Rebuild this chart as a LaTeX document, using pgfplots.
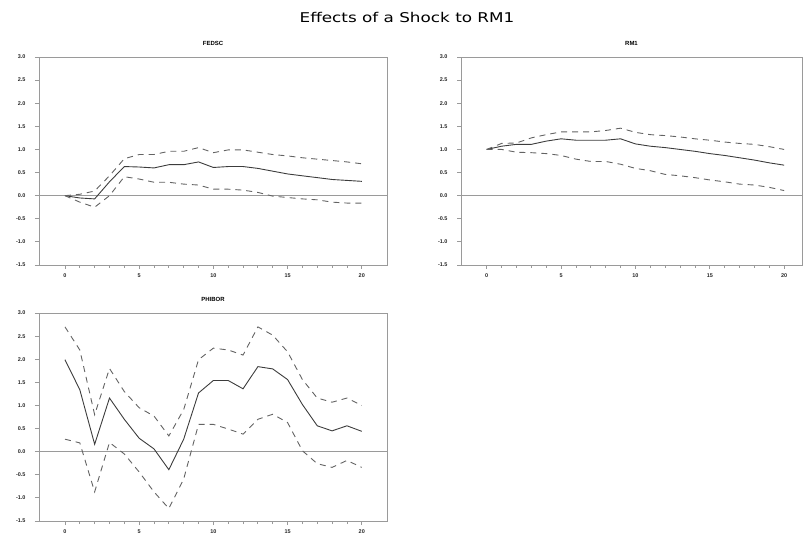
\documentclass[border=0pt]{standalone}
\usepackage{pgfplots}
\pgfplotsset{compat=1.18}
\usepackage{graphicx}
\usepackage{fontspec}
\setmainfont{DejaVu Sans}
\setsansfont{Liberation Sans}
\definecolor{axgray}{HTML}{9A9A9A}
\definecolor{linegray}{HTML}{3C3C3C}
\pgfplotsset{
  irf/.style={
    scale only axis, height=208bp,
    ymin=-1.5, ymax=3.0,
    ytick={-1.5,-1.0,-0.5,0,0.5,1.0,1.5,2.0,2.5,3.0},
    xtick={0,5,10,15,20}, minor xtick={0,...,20},
    axis line style={axgray, line width=0.8pt},
    major tick length=4bp, minor tick length=3bp,
    tick style={axgray, line width=0.8pt},
    tick align=outside, xtick pos=lower, ytick pos=left,
    yticklabel style={xshift=-6bp, /pgf/number format/.cd, fixed, fixed zerofill, precision=1},
    ticklabel style={font=\sffamily\bfseries\fontsize{5.5}{6}\selectfont, text=black!85},
    /pgf/number format/assume math mode=true,
    xticklabel style={yshift=-1.5bp},
    title style={font=\sffamily\bfseries\fontsize{6}{7}\selectfont, at={(0.5,1)}, anchor=south, yshift=2bp},
    anchor=north west,
  },
  resp/.style={linegray, line width=0.9pt, no markers},
  band/.style={linegray!80, line width=0.9pt, no markers, dash pattern=on 6bp off 5bp},
  zero/.style={axgray, line width=0.8pt, no markers},
}
\begin{document}
\begin{tikzpicture}
\path[use as bounding box] (0bp,0bp) rectangle (803bp,-535bp);
\node[font=\fontsize{13.5}{15}\selectfont] at (407bp,-17bp) {\scalebox{1.25}[1]{Effects of a Shock to RM1}};

% FEDSC
\begin{axis}[irf, at={(39bp,-57bp)}, width=348bp, xmin=-1.75, xmax=21.7, title={FEDSC}]
\addplot[zero] coordinates {(-1.75,0) (21.7,0)};
\addplot[resp] coordinates {(0,0) (1,-0.05) (2,-0.07) (3,0.3) (4,0.63) (5,0.62) (6,0.60) (7,0.67) (8,0.67) (9,0.73) (10,0.61) (11,0.63) (12,0.63) (13,0.59) (14,0.53) (15,0.47) (16,0.43) (17,0.39) (18,0.35) (19,0.33) (20,0.31)};
\addplot[band] coordinates {(0,0) (1,0.03) (2,0.10) (3,0.43) (4,0.80) (5,0.89) (6,0.89) (7,0.96) (8,0.96) (9,1.04) (10,0.93) (11,0.99) (12,0.99) (13,0.94) (14,0.89) (15,0.86) (16,0.82) (17,0.79) (18,0.76) (19,0.73) (20,0.69)};
\addplot[band] coordinates {(0,0) (1,-0.14) (2,-0.25) (3,0) (4,0.41) (5,0.36) (6,0.29) (7,0.29) (8,0.25) (9,0.23) (10,0.14) (11,0.14) (12,0.12) (13,0.07) (14,-0.01) (15,-0.04) (16,-0.07) (17,-0.09) (18,-0.14) (19,-0.16) (20,-0.16)};
\end{axis}

% RM1
\begin{axis}[irf, at={(461bp,-57bp)}, width=341bp, xmin=-1.73, xmax=21.2, title={RM1}]
\addplot[zero] coordinates {(-1.73,0) (21.2,0)};
\addplot[resp] coordinates {(0,1.0) (1,1.07) (2,1.11) (3,1.11) (4,1.18) (5,1.23) (6,1.2) (7,1.2) (8,1.2) (9,1.23) (10,1.12) (11,1.07) (12,1.04) (13,1.0) (14,0.96) (15,0.91) (16,0.87) (17,0.82) (18,0.77) (19,0.71) (20,0.66)};
\addplot[band] coordinates {(0,1.0) (1,1.13) (2,1.14) (3,1.25) (4,1.32) (5,1.38) (6,1.38) (7,1.38) (8,1.41) (9,1.46) (10,1.37) (11,1.32) (12,1.30) (13,1.27) (14,1.23) (15,1.20) (16,1.16) (17,1.13) (18,1.11) (19,1.06) (20,1.0)};
\addplot[band] coordinates {(0,1.0) (1,1.0) (2,0.94) (3,0.93) (4,0.91) (5,0.87) (6,0.79) (7,0.74) (8,0.74) (9,0.68) (10,0.59) (11,0.54) (12,0.46) (13,0.43) (14,0.39) (15,0.34) (16,0.30) (17,0.25) (18,0.23) (19,0.18) (20,0.11)};
\end{axis}

% PHIBOR
\begin{axis}[irf, at={(39bp,-313bp)}, width=348bp, xmin=-1.75, xmax=21.7, title={PHIBOR}]
\addplot[zero] coordinates {(-1.75,0) (21.7,0)};
\addplot[resp] coordinates {(0,1.99) (1,1.34) (2,0.16) (3,1.16) (4,0.70) (5,0.29) (6,0.06) (7,-0.39) (8,0.27) (9,1.27) (10,1.54) (11,1.54) (12,1.36) (13,1.84) (14,1.79) (15,1.56) (16,1.02) (17,0.56) (18,0.45) (19,0.56) (20,0.44)};
\addplot[band] coordinates {(0,2.70) (1,2.20) (2,0.80) (3,1.80) (4,1.30) (5,0.95) (6,0.77) (7,0.34) (8,0.91) (9,1.99) (10,2.24) (11,2.20) (12,2.09) (13,2.70) (14,2.52) (15,2.16) (16,1.56) (17,1.16) (18,1.07) (19,1.16) (20,1.0)};
\addplot[band] coordinates {(0,0.27) (1,0.19) (2,-0.87) (3,0.20) (4,-0.05) (5,-0.44) (6,-0.87) (7,-1.23) (8,-0.59) (9,0.59) (10,0.59) (11,0.49) (12,0.38) (13,0.70) (14,0.81) (15,0.63) (16,0.02) (17,-0.26) (18,-0.34) (19,-0.19) (20,-0.34)};
\end{axis}
\end{tikzpicture}
\end{document}
